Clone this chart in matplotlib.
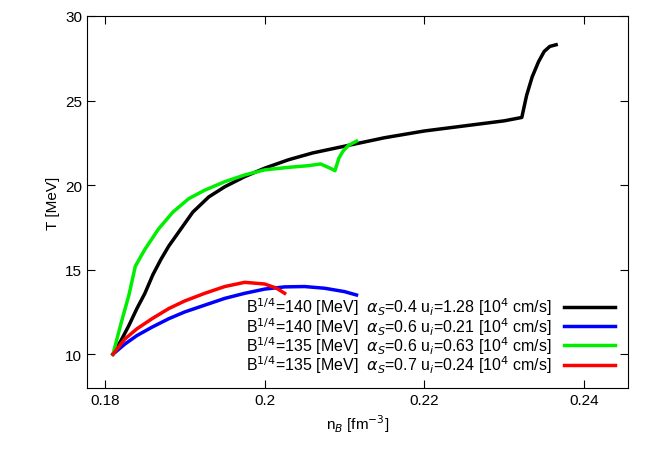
import matplotlib
matplotlib.use("Agg")
import matplotlib.pyplot as plt
plt.rcParams['font.family']=['Liberation Sans','DejaVu Sans']

bx=[0.181,0.182,0.183,0.184,0.185,0.186,0.187,0.188,0.1892,0.191,0.193,0.195,0.1975,0.2,0.203,0.206,0.21,0.215,0.22,0.225,0.23,0.2322,0.2328,0.2335,0.2343,0.235,0.2357,0.2365]
by=[10,10.8,11.7,12.7,13.6,14.7,15.6,16.4,17.2,18.4,19.3,19.9,20.5,21.0,21.5,21.9,22.3,22.8,23.2,23.5,23.8,24.0,25.3,26.4,27.3,27.9,28.2,28.3]
ux=[0.181,0.1825,0.184,0.1859,0.188,0.19,0.1925,0.195,0.1975,0.2,0.2025,0.205,0.2075,0.21,0.2115]
uy=[10,10.6,11.1,11.6,12.1,12.5,12.9,13.3,13.6,13.85,13.98,14.0,13.9,13.7,13.5]
gx=[0.181,0.182,0.183,0.1838,0.185,0.1867,0.1885,0.1905,0.1925,0.195,0.1975,0.2,0.203,0.2055,0.207,0.2082,0.2088,0.2093,0.2098,0.2105,0.2115]
gy=[10,11.8,13.5,15.2,16.2,17.4,18.4,19.2,19.7,20.2,20.6,20.9,21.05,21.15,21.25,21.0,20.85,21.6,22.0,22.35,22.6]
rx=[0.181,0.1825,0.184,0.1859,0.188,0.19,0.1925,0.195,0.1975,0.2,0.2015,0.2025]
ry=[10,10.9,11.5,12.1,12.7,13.15,13.6,14.0,14.25,14.15,13.9,13.6]
labels=[r"B$^{1/4}$=140 [MeV]  $\alpha_S$=0.4 u$_i$=1.28 [10$^4$ cm/s]",
        r"B$^{1/4}$=140 [MeV]  $\alpha_S$=0.6 u$_i$=0.21 [10$^4$ cm/s]",
        r"B$^{1/4}$=135 [MeV]  $\alpha_S$=0.6 u$_i$=0.63 [10$^4$ cm/s]",
        r"B$^{1/4}$=135 [MeV]  $\alpha_S$=0.7 u$_i$=0.24 [10$^4$ cm/s]"]
colors=["black","#0000ff","#00ee00","#ff0000"]

fig=plt.figure(figsize=(6.54,4.56),dpi=100)
ax=fig.add_axes([87/654,67/456,541/654,372/456])
for x,y,c,l in zip([bx,ux,gx,rx],[by,uy,gy,ry],colors,labels):
    ax.plot(x,y,color=c,lw=2.5,label=l)
ax.set_xlim(0.17775,0.2455)
ax.set_ylim(8,30)
ax.set_xticks([0.18,0.2,0.22,0.24]); ax.set_xticklabels(["0.18","0.2","0.22","0.24"])
ax.set_yticks([10,15,20,25,30])
ax.tick_params(direction="in",top=True,right=True,labelsize=11,length=6)
ax.set_xlabel(r"n$_B$ [fm$^{-3}$]",fontsize=11)
ax.set_ylabel("T [MeV]",fontsize=11)
ax.legend(loc="lower right",frameon=False,markerfirst=False,fontsize=11.5,handlelength=3.2,
          labelspacing=-0.15,borderaxespad=0.4,handletextpad=0.8)
fig.savefig("out.png",dpi=100)
